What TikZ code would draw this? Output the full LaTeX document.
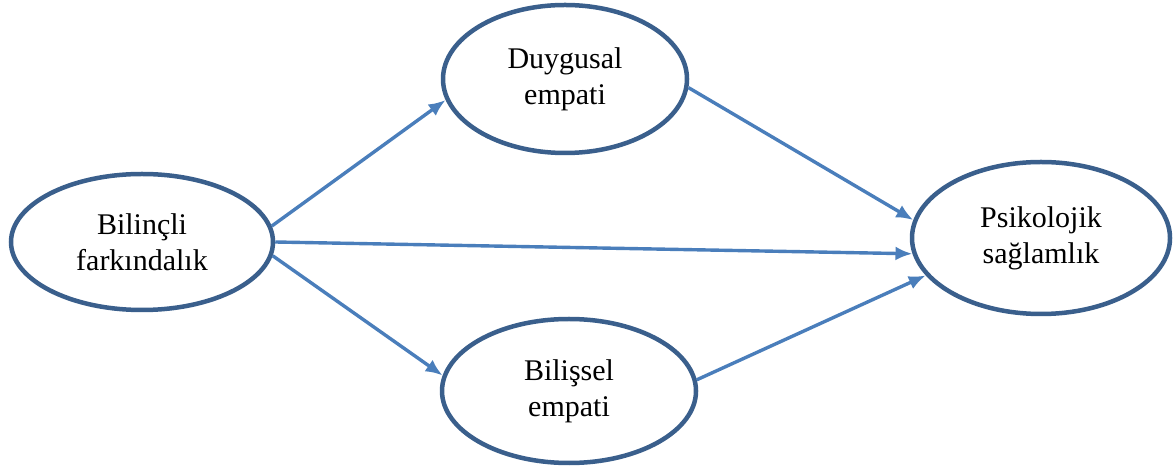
\documentclass[tikz,border=0pt]{standalone}
\usepackage{fontspec}
\setmainfont{Liberation Serif}
\usetikzlibrary{shapes.geometric, arrows.meta}
\definecolor{ringblue}{HTML}{3A5F8C}
\definecolor{arrowblue}{HTML}{4A7EBB}
\begin{document}
\begin{tikzpicture}[x=1pt, y=1pt]
  \tikzstyle{node}=[ellipse, draw=ringblue, line width=4.5pt, inner sep=0pt, fill=white,
                    align=center, font=\fontsize{30}{36}\selectfont]
  \tikzstyle{arrow}=[-{Latex[length=17pt, width=14pt]}, draw=arrowblue, line width=3.4pt]

  \useasboundingbox (0,0) rectangle (1174,468);

  \node[node, minimum width=262pt, minimum height=136pt] (bf) at (142,  226) {Bilinçli\\farkındalık};
  \node[node, minimum width=244pt, minimum height=148pt] (de) at (565,  389) {Duygusal\\empati};
  \node[node, minimum width=254pt, minimum height=144pt] (be) at (569,  77)  {Bilişsel\\empati};
  \node[node, minimum width=258pt, minimum height=152pt] (ps) at (1041, 230) {Psikolojik\\sağlamlık};

  \path (bf.7)  edge[arrow] (de.190);
  \path (bf.0)  edge[arrow] (ps.187);
  \path (bf.-6) edge[arrow] (be.173);
  \path (de.-4) edge[arrow] (ps.172);
  \path (be.5)  edge[arrow] (ps.198);
\end{tikzpicture}
\end{document}
